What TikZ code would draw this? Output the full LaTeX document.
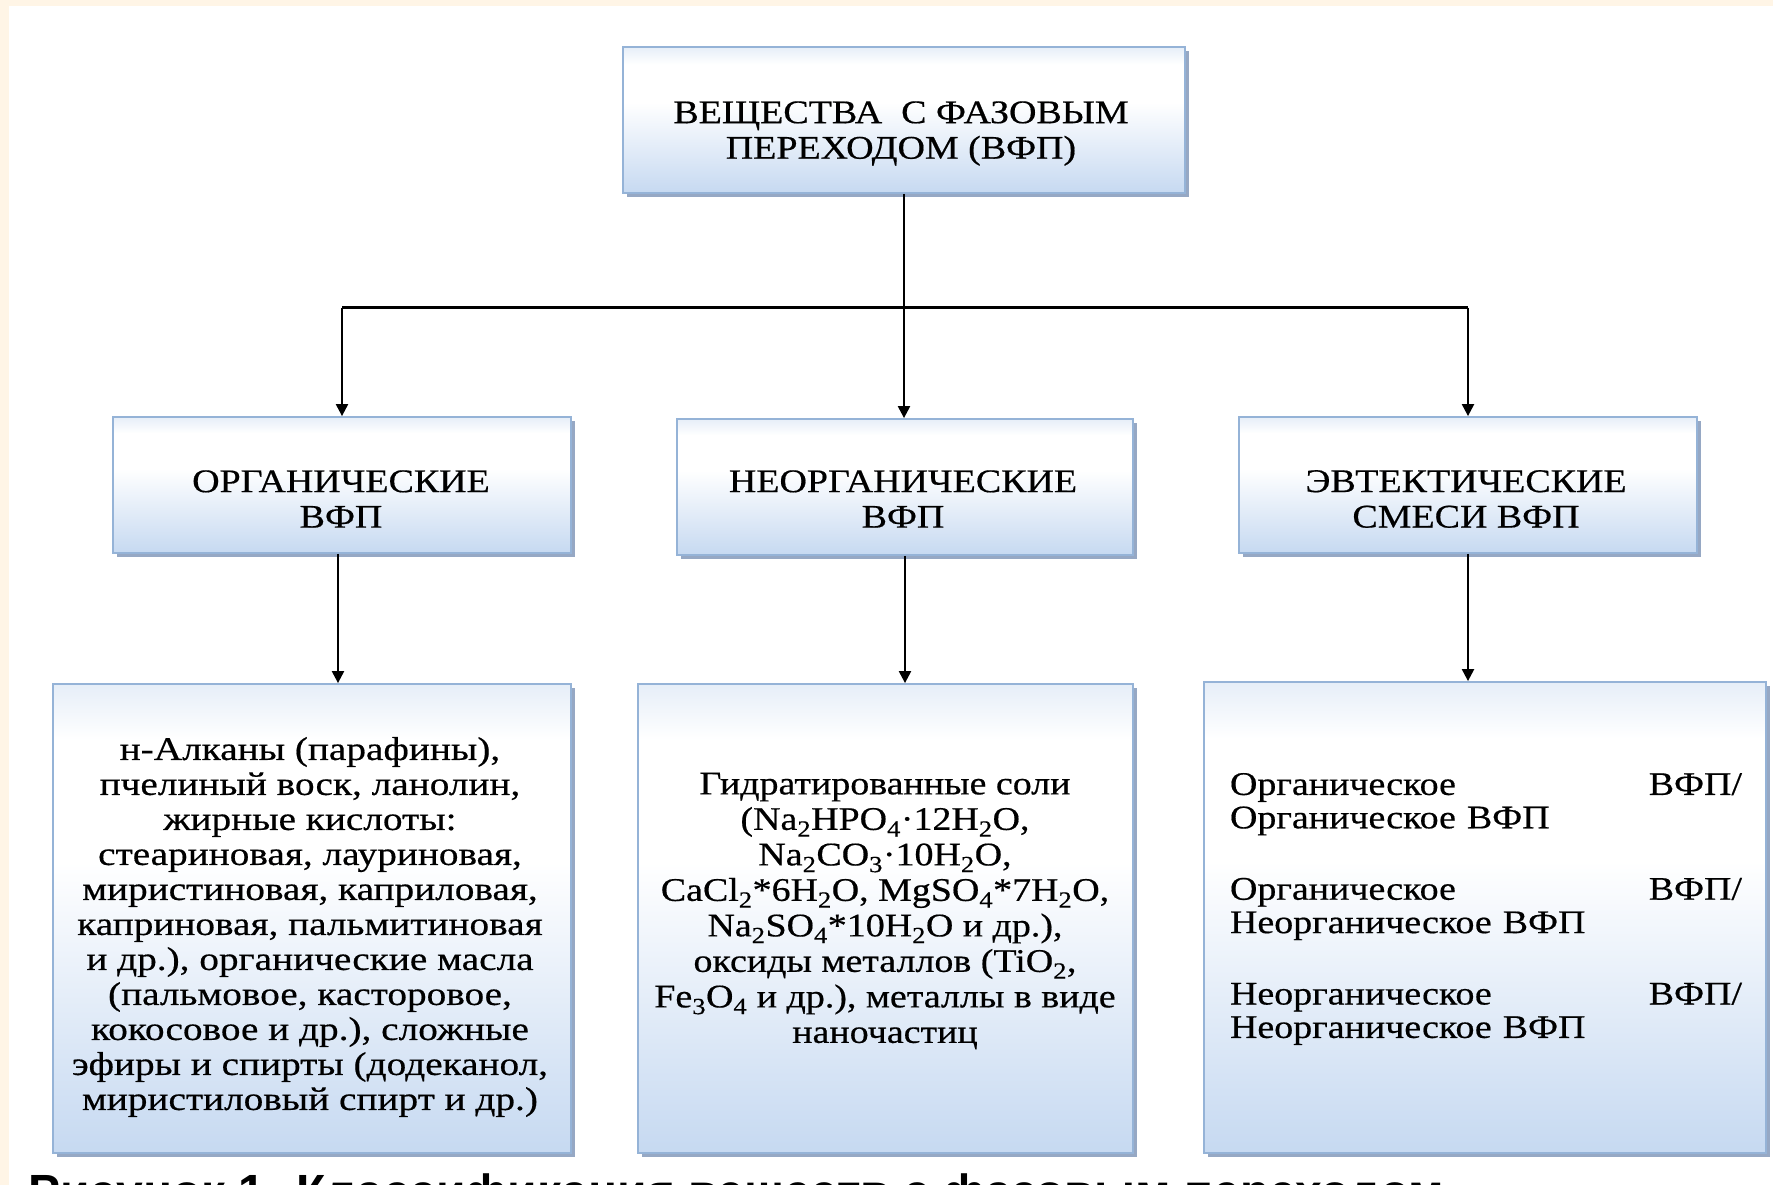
\documentclass[tikz,border=0pt]{standalone}
\usepackage{fontspec}
\setmainfont{Liberation Serif}[FakeStretch=1.15,FakeBold=0.5]
\newfontfamily\widefont{Liberation Serif}[FakeStretch=1.19,FakeBold=0.5]
\newfontfamily\capfont{Liberation Sans}
\usetikzlibrary{arrows.meta,shadows}
\definecolor{cream}{RGB}{255,245,230}
\definecolor{blueB}{RGB}{198,217,241}
\definecolor{blueT}{RGB}{230,238,248}
\definecolor{edgec}{RGB}{149,179,215}
\definecolor{shadowc}{RGB}{150,168,196}
\pgfdeclareverticalshading{boxshade}{100bp}{color(0bp)=(blueB); color(25bp)=(blueB); color(56bp)=(white); color(69bp)=(white); color(75bp)=(blueT); color(100bp)=(blueT)}
\tikzset{
  box/.style={draw=edgec, line width=1.8pt, shading=boxshade, inner sep=0pt,
    drop shadow={shadow xshift=4pt, shadow yshift=-4pt, fill=shadowc, opacity=1}},
  txt/.style={align=center, inner sep=0pt, font=\fontsize{33}{35.5}\selectfont},
  arr/.style={line width=2.2pt, -{Triangle[length=12pt,width=12pt]}},
  ln/.style={line width=2.2pt}
}
\begin{document}
\begin{tikzpicture}[x=1pt,y=-1pt]
\clip (0,0) rectangle (1773,1185);
\useasboundingbox (0,0) rectangle (1773,1185);
\fill[cream] (0,0) rectangle (1773,1185);
\fill[white] (9,6) rectangle (1773,1185);

% boxes
\node[box, minimum width=562pt, minimum height=146pt] (top) at (904,120) {};
\node[box, minimum width=458pt, minimum height=136pt] (oL) at (342,485) {};
\node[box, minimum width=456pt, minimum height=136pt] (oM) at (905,487) {};
\node[box, minimum width=458pt, minimum height=136pt] (oR) at (1468,485) {};
\node[box, minimum width=518pt, minimum height=469pt] (bL) at (312,918.5) {};
\node[box, minimum width=495pt, minimum height=469pt] (bM) at (885.5,918.5) {};
\node[box, minimum width=562pt, minimum height=471pt] (bR) at (1485,917.5) {};

% texts
\node[txt] (ttop) at (901,133.5) {ВЕЩЕСТВА\ \ С ФАЗОВЫМ\\ПЕРЕХОДОМ (ВФП)};
\node[txt] (toL) at (341,499) {ОРГАНИЧЕСКИЕ\\ВФП};
\node[txt] (toM) at (903,499) {НЕОРГАНИЧЕСКИЕ\\ВФП};
\node[txt] (toR) at (1466,499) {ЭВТЕКТИЧЕСКИЕ\\СМЕСИ ВФП};
\node[txt, font=\widefont\fontsize{33}{35}\selectfont] (tbL) at (310,927) {н-Алканы (парафины),\\пчелиный воск, ланолин,\\жирные кислоты:\\стеариновая, лауриновая,\\миристиновая, каприловая,\\каприновая, пальмитиновая\\и др.), органические масла\\(пальмовое, касторовое,\\кокосовое и др.), сложные\\эфиры и спирты (додеканол,\\миристиловый спирт и др.)};
\node[txt] (tbM) at (885,911) {Гидратированные соли\\(Na\textsubscript{2}HPO\textsubscript{4}·12H\textsubscript{2}O,\\Na\textsubscript{2}CO\textsubscript{3}·10H\textsubscript{2}O,\\CaCl\textsubscript{2}*6H\textsubscript{2}O, MgSO\textsubscript{4}*7H\textsubscript{2}O,\\Na\textsubscript{2}SO\textsubscript{4}*10H\textsubscript{2}O и др.),\\оксиды металлов (TiO\textsubscript{2},\\Fe\textsubscript{3}O\textsubscript{4} и др.), металлы в виде\\наночастиц};
\node[txt, align=left, text width=512pt, font=\fontsize{33}{33.4}\selectfont] (tbR) at (1486,909) {Органическое\hfill ВФП/\\Органическое ВФП\\[38pt]Органическое\hfill ВФП/\\Неорганическое ВФП\\[38pt]Неорганическое\hfill ВФП/\\Неорганическое ВФП};

% connectors
\coordinate (bar) at (0,307.5);
\draw[arr] (top.south) -- (top.south |- oM.north);
\draw[ln] (oL.north |- bar) -- (oR.north |- bar);
\draw[arr] (oL.north |- bar) -- (oL.north);
\draw[arr] (oR.north |- bar) -- (oR.north);
\draw[arr] ([xshift=-4pt]oL.south) -- ([xshift=-4pt]oL.south |- bL.north);
\draw[arr] (oM.south) -- (oM.south |- bM.north);
\draw[arr] (oR.south) -- (oR.south |- bR.north);

% caption (cut off by the frame, as in the original)
\node[anchor=base west, inner sep=0pt, font=\capfont\bfseries\fontsize{48}{52}\selectfont] (cap) at (28,1208) {Рисунок 1. Классификация веществ с фазовым переходом};
\end{tikzpicture}
\end{document}
